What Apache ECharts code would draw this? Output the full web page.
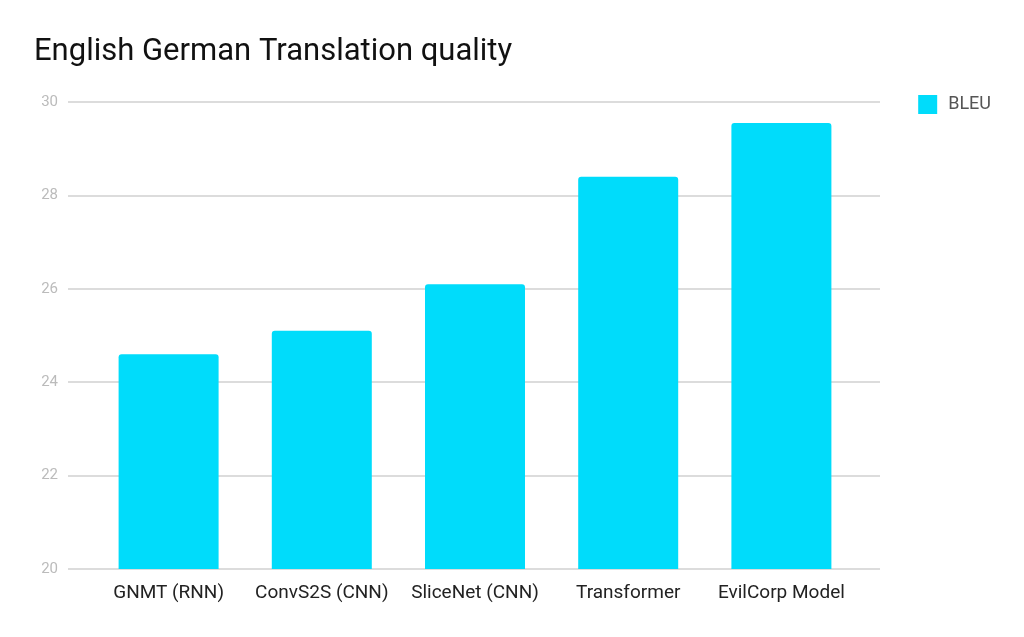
<!DOCTYPE html>
<html><head><meta charset="utf-8">
<script src="https://cdn.jsdelivr.net/npm/echarts@6/dist/echarts.min.js"></script>
<style>html,body{margin:0;padding:0;background:#fff}#c{width:1024px;height:637px}</style>
</head><body><div id="c"></div>
<script>
const categories = ['GNMT (RNN)', 'ConvS2S (CNN)', 'SliceNet (CNN)', 'Transformer', 'EvilCorp Model'];
const bleu = [24.6, 25.1, 26.1, 28.4, 29.55];
const seriesName = 'BLEU';
const yMin = 20, yMax = 30, yStep = 2;

const chart = echarts.init(document.getElementById('c'));
chart.setOption({
  animation: false,
  backgroundColor: '#fff',
  title: {
    text: 'English German Translation quality',
    left: 29, top: 32,
    textStyle: { fontFamily: 'Roboto', fontWeight: 'normal', fontSize: 31, color: '#111' }
  },
  legend: {
    data: [seriesName], right: 28, top: 90, itemWidth: 19, itemHeight: 19, itemGap: 16,
    icon: 'rect',
    textStyle: { fontFamily: 'Roboto', fontSize: 18, color: '#555', padding: [0, 0, 0, 6] }
  },
  grid: [
    { left: 68, right: 144, top: 102, bottom: 68 },
    { left: 92, right: 166, top: 102, bottom: 68 }
  ],
  xAxis: [
    { type: 'category', gridIndex: 0, data: categories, show: false },
    { type: 'category', gridIndex: 1, data: categories,
      axisLine: { show: false }, axisTick: { show: false },
      axisLabel: { interval: 0, fontFamily: 'Roboto', fontSize: 19, color: '#222', margin: 15 } }
  ],
  yAxis: [
    { type: 'value', gridIndex: 0, min: yMin, max: yMax, interval: yStep,
      axisLine: { show: false }, axisTick: { show: false },
      axisLabel: { fontFamily: 'Roboto', fontSize: 15, color: '#bbb', margin: 10 },
      splitLine: { lineStyle: { color: '#d0d0d0', width: 1.5 } } },
    { type: 'value', gridIndex: 1, min: yMin, max: yMax, interval: yStep, show: false }
  ],
  series: [{
    name: seriesName, type: 'bar', xAxisIndex: 1, yAxisIndex: 1,
    data: bleu, barWidth: 100,
    itemStyle: { color: '#00DCFB', borderRadius: [3, 3, 0, 0] }
  }]
});
</script></body></html>
